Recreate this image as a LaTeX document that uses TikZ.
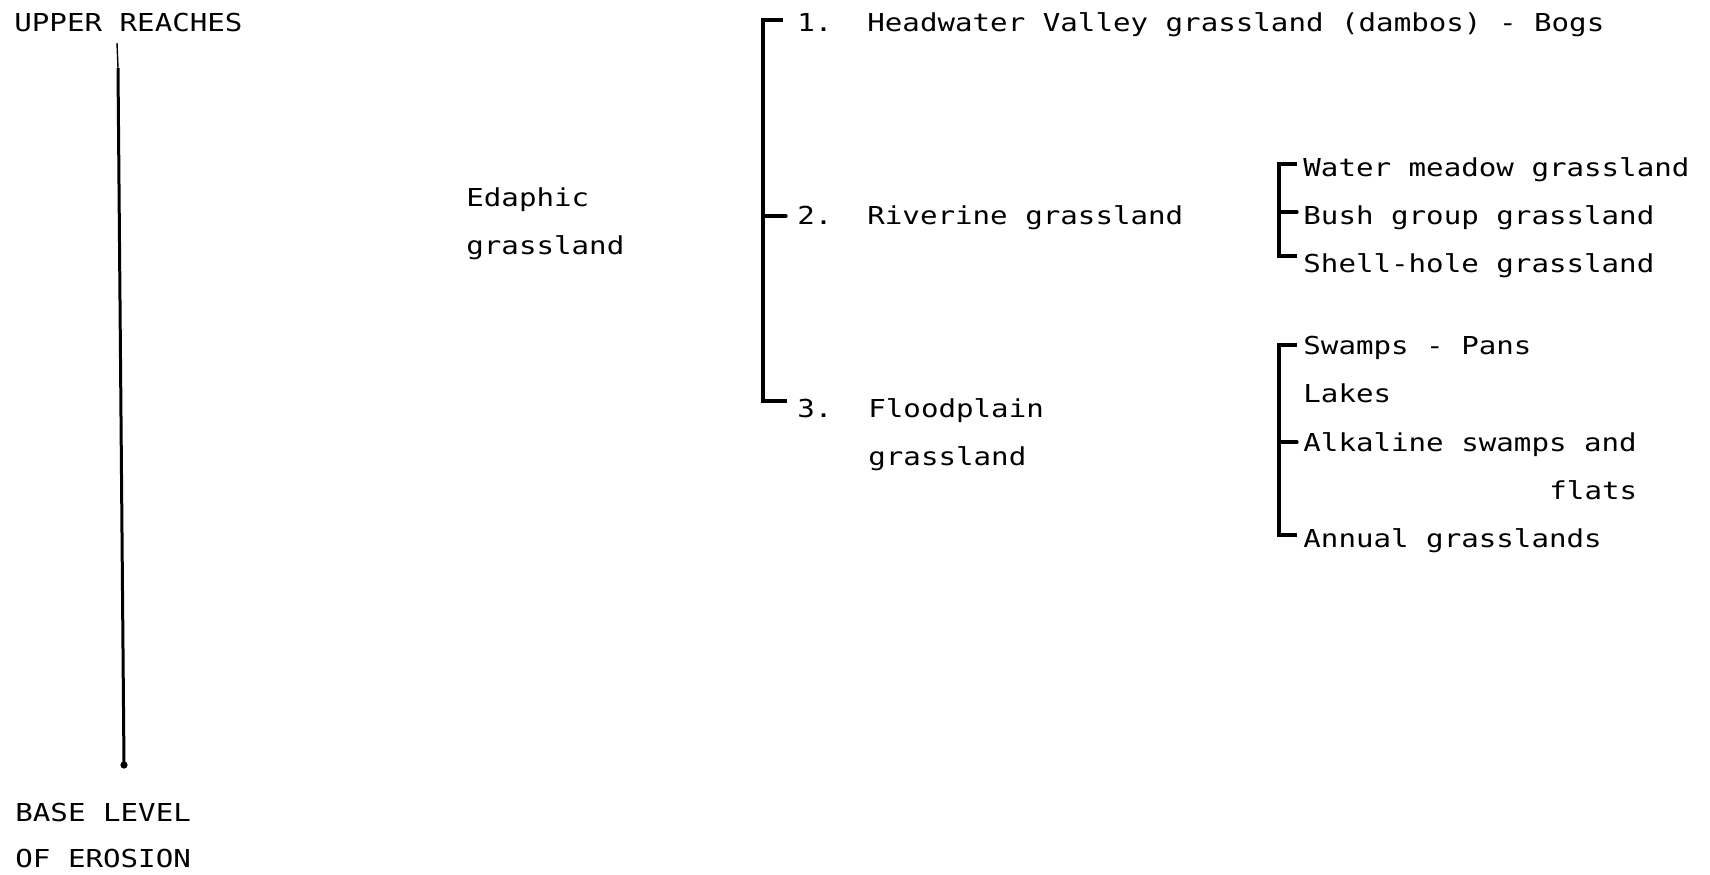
\documentclass[tikz,border=0pt]{standalone}
\usepackage{fontspec}
\newfontface\twfont{DejaVu Sans Mono}[FakeStretch=1.18]
\usetikzlibrary{calc}
\tikzset{
  txt/.style={font=\fontsize{12.35pt}{14pt}\twfont, inner sep=0pt, anchor=base west, text height=9pt, text depth=0pt},
  brk/.style={line width=1.8pt, line join=miter},
  tick/.style={line width=1.6pt, line cap=round},
  axis/.style={line width=1.5pt}
}
\begin{document}
\begin{tikzpicture}[x=0.5pt,y=-0.5pt]
\useasboundingbox (0,0) rectangle (1710,874);
% left axis
\node[txt] (up) at (14,31) {UPPER REACHES};
\node[txt] (base1) at (15,821) {BASE LEVEL};
\node[txt] (base2) at (15,867) {OF EROSION};
\coordinate (ltop) at (117,43);
\coordinate (lmid) at (118,68);
\coordinate (lbot) at (124,765);
\draw[line width=0.7pt] (ltop) -- (lmid);
\draw[axis] (lmid) -- (lbot);
\fill (lbot) circle (3.6);
% edaphic
\node[txt] (ed1) at (466,206) {Edaphic};
\node[txt] (ed2) at (466,254) {grassland};
% main items
\node[txt] (n1) at (797,31) {1.};
\node[txt] (h1) at (867,31) {Headwater Valley grassland (dambos) - Bogs};
\node[txt] (n2) at (797,224) {2.};
\node[txt] (r2) at (867,224) {Riverine grassland};
\node[txt] (n3) at (797,417) {3.};
\node[txt] (f1) at (868,417) {Floodplain};
\node[txt] (f2) at (868,465) {grassland};
% main bracket
\draw[brk] ($(n1.west)+(-14,-2)$) -- ($(n1.west)+(-34,-2)$) -- ($(n3.west)+(-34,-7)$) -- ($(n3.west)+(-10,-7)$);
\draw[tick] ($(n2.west)+(-34,1)$) -- ($(n2.west)+(-11,1)$);
% riverine subgroup
\node[txt] (w1) at (1303,176) {Water meadow grassland};
\node[txt] (w2) at (1303,224) {Bush group grassland};
\node[txt] (w3) at (1303,272) {Shell-hole grassland};
\draw[brk] ($(w1.west)+(-6,-3)$) -- ($(w1.west)+(-24,-3)$) -- ($(w3.west)+(-24,-7)$) -- ($(w3.west)+(-6,-7)$);
\draw[tick] ($(w2.west)+(-24,-3)$) -- ($(w2.west)+(-6,-3)$);
% floodplain subgroup
\node[txt] (s1) at (1303,354) {Swamps - Pans};
\node[txt] (s2) at (1303,402) {Lakes};
\node[txt] (s3) at (1303,451) {Alkaline swamps and};
\node[txt] (s4) at (1549,499) {flats};
\node[txt] (s5) at (1303,547) {Annual grasslands};
\draw[brk] ($(s1.west)+(-6,0)$) -- ($(s1.west)+(-24,0)$) -- ($(s5.west)+(-24,-3)$) -- ($(s5.west)+(-6,-3)$);
\draw[tick] ($(s3.west)+(-24,0)$) -- ($(s3.west)+(-6,0)$);
\end{tikzpicture}
\end{document}
